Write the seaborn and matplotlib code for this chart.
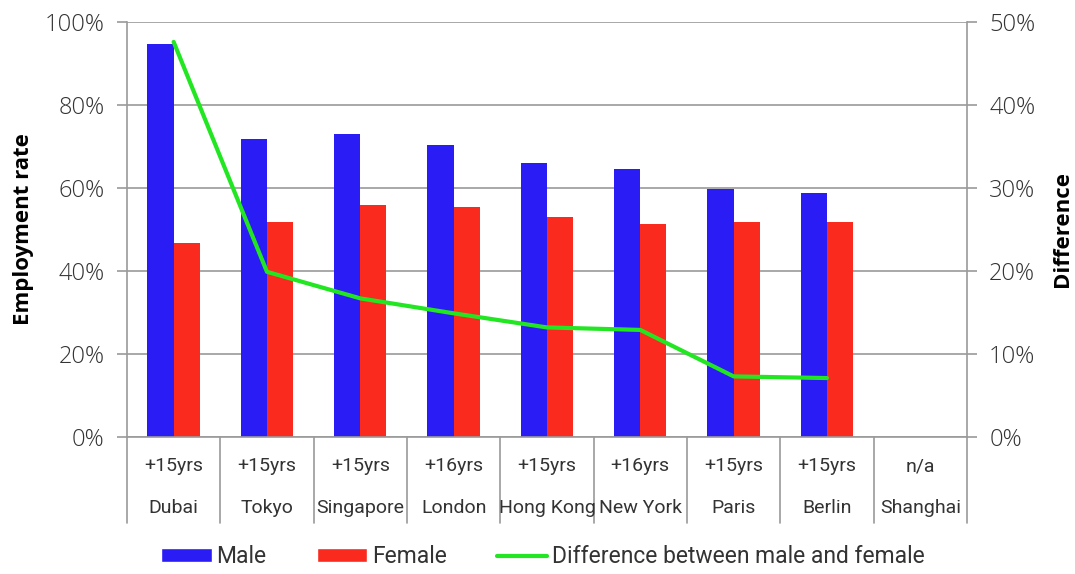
import numpy as np
import pandas as pd
import matplotlib
matplotlib.use("Agg")
import matplotlib.pyplot as plt
import matplotlib.transforms as mtransforms
from matplotlib.ticker import PercentFormatter, MultipleLocator
from matplotlib.patches import Patch
from matplotlib.lines import Line2D
import seaborn as sns

cities = ["Dubai", "Tokyo", "Singapore", "London", "Hong Kong",
          "New York", "Paris", "Berlin", "Shanghai"]
age_groups = ["+15yrs", "+15yrs", "+15yrs", "+16yrs", "+15yrs",
              "+16yrs", "+15yrs", "+15yrs", "n/a"]
male = [94.7, 71.8, 73.0, 70.3, 66.0, 64.5, 59.7, 58.7, np.nan]
female = [46.7, 51.7, 56.0, 55.3, 52.9, 51.4, 51.7, 51.7, np.nan]
difference = [47.6, 19.9, 16.7, 14.9, 13.2, 12.9, 7.3, 7.1, np.nan]

BLUE = "#2A1CF4"
RED = "#FB2A1E"
GREEN = "#22E622"
GRID = "#9a9a9a"
TEXT = "#333333"

sns.set_theme(style="white")
plt.rcParams["font.family"] = ["Roboto", "DejaVu Sans"]

df = pd.DataFrame({
    "city": cities * 2,
    "sex": ["Male"] * len(cities) + ["Female"] * len(cities),
    "rate": male + female,
})

fig = plt.figure(figsize=(10.75, 5.74), dpi=100)
ax = fig.add_axes([0.1181, 0.2387, 0.7814, 0.7230])

sns.barplot(data=df, x="city", y="rate", hue="sex", order=cities,
            hue_order=["Male", "Female"], palette=[BLUE, RED],
            width=0.56, gap=0, saturation=1, linewidth=0,
            legend=False, ax=ax)

ax.set_ylim(0, 100)
ax.set_xlim(-0.5, len(cities) - 0.5)
ax.yaxis.set_major_locator(MultipleLocator(20))
ax.yaxis.set_major_formatter(PercentFormatter(decimals=0))
ax.grid(axis="y", color=GRID, linewidth=1.2)
ax.set_axisbelow(True)
ax.set_xticks([])
ax.set_xlabel("")
ax.set_ylabel("Employment rate", fontsize=16, fontweight="bold",
              family=["Open Sans", "DejaVu Sans"], color="black", labelpad=8)
ax.tick_params(axis="y", left=True, length=7, width=1.2, color=GRID,
               labelsize=17, labelcolor=TEXT, pad=9)

for side, sp in ax.spines.items():
    sp.set_visible(side in ("left", "bottom"))
    sp.set_color(GRID)
    sp.set_linewidth(1.2)

ax2 = ax.twinx()
sns.lineplot(x=np.arange(len(cities)), y=difference, color=GREEN,
             linewidth=3, ax=ax2)
ax2.set_ylim(0, 50)
ax2.yaxis.set_major_locator(MultipleLocator(10))
ax2.yaxis.set_major_formatter(PercentFormatter(decimals=0))
ax2.set_ylabel("Difference", fontsize=16, fontweight="bold",
               family=["Open Sans", "DejaVu Sans"], color="black", labelpad=12)
ax2.tick_params(axis="y", right=True, length=7, width=1.2, color=GRID,
                labelsize=17, labelcolor=TEXT, pad=9)
for side, sp in ax2.spines.items():
    sp.set_visible(side == "right")
    sp.set_color(GRID)
    sp.set_linewidth(1.2)
for lbl in ax.get_yticklabels() + ax2.get_yticklabels():
    lbl.set_family(["Open Sans", "DejaVu Sans"])
    lbl.set_fontweight("light")

# two-row category axis with separators
trans = mtransforms.blended_transform_factory(ax.transData, ax.transAxes)
for b in np.arange(-0.5, len(cities), 1.0):
    ax.plot([b, b], [0, -0.207], transform=trans, color=GRID,
            linewidth=1.2, clip_on=False)
for i, (age, city) in enumerate(zip(age_groups, cities)):
    ax.text(i, -0.071, age, transform=trans, ha="center", va="center",
            fontsize=14, color=TEXT)
    ax.text(i, -0.172, city, transform=trans, ha="center", va="center",
            fontsize=14, color=TEXT)

handles = [Patch(facecolor=BLUE, label="Male"),
           Patch(facecolor=RED, label="Female"),
           Line2D([0], [0], color=GREEN, linewidth=3,
                  label="Difference between male and female")]
fig.legend(handles=handles, loc="center", bbox_to_anchor=(0.505, 0.03),
           ncol=3, frameon=False, fontsize=16.5, handlelength=2.2,
           handleheight=0.6, handletextpad=0.2, columnspacing=2.2,
           labelcolor=TEXT)

fig.savefig("out.png", dpi=100, facecolor="white")
